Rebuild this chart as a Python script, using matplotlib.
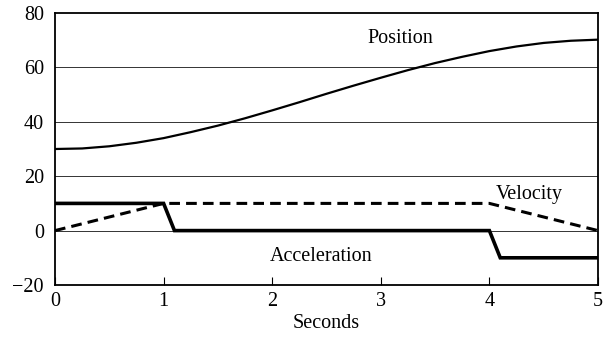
import matplotlib
matplotlib.use("Agg")
import matplotlib.pyplot as plt
import numpy as np

plt.rcParams['font.family'] = ['Liberation Serif', 'DejaVu Serif']

# Data
pos_t = [0, 0.25, 0.5, 0.75, 1.0, 1.25, 1.5, 1.75, 2.0, 2.25, 2.5, 2.75, 3.0, 3.25, 3.5, 3.75, 4.0, 4.25, 4.5, 4.75, 5.0]
pos_y = [30, 30.2, 31.0, 32.3, 34.0, 36.2, 38.6, 41.3, 44.2, 47.2, 50.3, 53.3, 56.2, 59.0, 61.6, 63.9, 66.0, 67.7, 69.0, 69.8, 70.2]
vel_t = [0, 1, 4, 5]
vel_y = [0, 10, 10, 0]
acc_t = [0, 1, 1.1, 4, 4.1, 5]
acc_y = [10, 10, 0, 0, -10, -10]
xticks = [0, 1, 2, 3, 4, 5]
yticks = [-20, 0, 20, 40, 60, 80]

FS = 14.5
fig = plt.figure(figsize=(6.03, 3.37), dpi=100)
ax = fig.add_axes([0.0912, 0.1543, 0.9005, 0.8071])

for g in [0, 20, 40, 60]:
    ax.axhline(g, color='#333333', lw=0.7, zorder=1)

ax.plot(pos_t, pos_y, color='black', lw=1.6, zorder=3)
ax.plot(vel_t, vel_y, color='black', lw=2.2, ls=(0, (3.5, 2.0)), zorder=3)
ax.plot(acc_t, acc_y, color='black', lw=2.6, zorder=3, solid_joinstyle='miter')

ax.set_xlim(0, 5)
ax.set_ylim(-20, 80)
ax.set_xticks(xticks)
ax.set_yticks(yticks)
ax.set_yticklabels(['\u221220' if v < 0 else str(v) for v in yticks])
ax.tick_params(axis='both', direction='in', length=6, width=0.8, labelsize=FS, pad=5)
ax.tick_params(axis='y', length=0, pad=8)
for s in ax.spines.values():
    s.set_linewidth(1.3)

ax.text(3.18, 70.8, 'Position', fontsize=FS, ha='center', va='center')
ax.text(4.37, 13.3, 'Velocity', fontsize=FS, ha='center', va='center')
ax.text(2.45, -9.5, 'Acceleration', fontsize=FS, ha='center', va='center')
ax.set_xlabel('Seconds', fontsize=FS, labelpad=2)

fig.savefig('out.png', dpi=100)
